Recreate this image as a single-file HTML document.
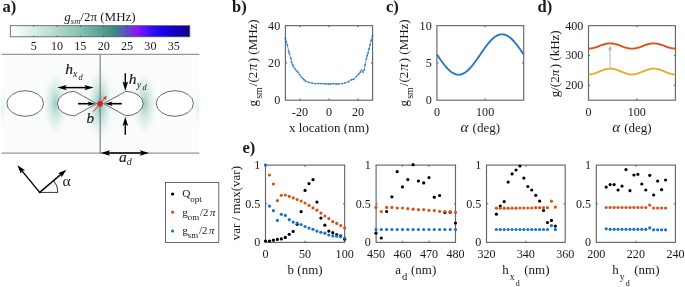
<!DOCTYPE html>
<html><head><meta charset="utf-8"><style>
html,body{margin:0;padding:0;background:#fff;}
body{width:685px;height:287px;overflow:hidden;}
svg{display:block;will-change:transform;}
text{font-family:"Liberation Serif", serif; fill:#1a1a1a;}
</style></head><body>
<svg width="685" height="287" viewBox="0 0 685 287">
<rect width="685" height="287" fill="#fff"/>
<text x="2.5" y="12" font-size="16.5" font-weight="bold">a)</text>
<text x="100" y="21" font-size="13" text-anchor="middle"><tspan font-style="italic">g</tspan><tspan font-style="italic" font-size="8.5" dy="2.5">sm</tspan><tspan dy="-2.5">/2π (MHz)</tspan></text>
<defs><linearGradient id="cbg" x1="0" x2="1" y1="0" y2="0"><stop offset="0.0000" stop-color="#ffffff"/><stop offset="0.1299" stop-color="#dcece8"/><stop offset="0.2597" stop-color="#b3d7cf"/><stop offset="0.3896" stop-color="#88c0b3"/><stop offset="0.5195" stop-color="#509d8c"/><stop offset="0.5792" stop-color="#3f8c7e"/><stop offset="0.6364" stop-color="#5058c0"/><stop offset="0.7117" stop-color="#8a14f6"/><stop offset="0.7922" stop-color="#2a10f8"/><stop offset="0.8571" stop-color="#1c00e6"/><stop offset="0.9351" stop-color="#1200b4"/><stop offset="1.0000" stop-color="#0e0090"/></linearGradient>
<radialGradient id="g1"><stop offset="0" stop-color="#5aa99c" stop-opacity="0.9"/><stop offset="0.3" stop-color="#86c2b7" stop-opacity="0.5"/><stop offset="1" stop-color="#c8e2dd" stop-opacity="0"/></radialGradient>
<radialGradient id="g2"><stop offset="0" stop-color="#7dbdb1" stop-opacity="0.7"/><stop offset="0.35" stop-color="#9ccbc2" stop-opacity="0.42"/><stop offset="1" stop-color="#c8e2dd" stop-opacity="0"/></radialGradient>
<radialGradient id="g3"><stop offset="0" stop-color="#c5e1dc" stop-opacity="0.55"/><stop offset="1" stop-color="#e6f1ef" stop-opacity="0"/></radialGradient>
<linearGradient id="gv" x1="0" x2="0" y1="0" y2="1"><stop offset="0" stop-color="#d8ebe7" stop-opacity="0.0"/><stop offset="0.5" stop-color="#a9d1c9" stop-opacity="0.6"/><stop offset="1" stop-color="#d8ebe7" stop-opacity="0.0"/></linearGradient>
</defs>
<rect x="10.3" y="25.7" width="179.50" height="11.10" fill="url(#cbg)" stroke="#555" stroke-width="0.8"/>
<line x1="33.65" y1="25.70" x2="33.65" y2="27.00" stroke="#333" stroke-width="0.7" />
<line x1="33.65" y1="36.80" x2="33.65" y2="35.50" stroke="#333" stroke-width="0.7" />
<text x="33.65" y="49.60" font-size="12.1" text-anchor="middle" >5</text>
<line x1="57.00" y1="25.70" x2="57.00" y2="27.00" stroke="#333" stroke-width="0.7" />
<line x1="57.00" y1="36.80" x2="57.00" y2="35.50" stroke="#333" stroke-width="0.7" />
<text x="57.00" y="49.60" font-size="12.1" text-anchor="middle" >10</text>
<line x1="80.35" y1="25.70" x2="80.35" y2="27.00" stroke="#333" stroke-width="0.7" />
<line x1="80.35" y1="36.80" x2="80.35" y2="35.50" stroke="#333" stroke-width="0.7" />
<text x="80.35" y="49.60" font-size="12.1" text-anchor="middle" >15</text>
<line x1="103.70" y1="25.70" x2="103.70" y2="27.00" stroke="#333" stroke-width="0.7" />
<line x1="103.70" y1="36.80" x2="103.70" y2="35.50" stroke="#333" stroke-width="0.7" />
<text x="103.70" y="49.60" font-size="12.1" text-anchor="middle" >20</text>
<line x1="127.05" y1="25.70" x2="127.05" y2="27.00" stroke="#333" stroke-width="0.7" />
<line x1="127.05" y1="36.80" x2="127.05" y2="35.50" stroke="#333" stroke-width="0.7" />
<text x="127.05" y="49.60" font-size="12.1" text-anchor="middle" >25</text>
<line x1="150.40" y1="25.70" x2="150.40" y2="27.00" stroke="#333" stroke-width="0.7" />
<line x1="150.40" y1="36.80" x2="150.40" y2="35.50" stroke="#333" stroke-width="0.7" />
<text x="150.40" y="49.60" font-size="12.1" text-anchor="middle" >30</text>
<line x1="173.75" y1="25.70" x2="173.75" y2="27.00" stroke="#333" stroke-width="0.7" />
<line x1="173.75" y1="36.80" x2="173.75" y2="35.50" stroke="#333" stroke-width="0.7" />
<text x="173.75" y="49.60" font-size="12.1" text-anchor="middle" >35</text>
<rect x="1.5" y="54.3" width="197.8" height="98.8" fill="#fbfdfc"/>
<ellipse cx="100" cy="103.7" rx="45" ry="40" fill="url(#g3)" opacity="0.45"/>
<ellipse cx="100" cy="103.7" rx="11" ry="46" fill="url(#g3)"/>
<ellipse cx="56" cy="103.6" rx="14" ry="36" fill="url(#g3)"/>
<ellipse cx="144" cy="103.6" rx="14" ry="36" fill="url(#g3)"/>
<ellipse cx="55.5" cy="103.6" rx="12" ry="31" fill="url(#g2)"/>
<ellipse cx="144.5" cy="103.6" rx="12" ry="31" fill="url(#g2)"/>
<ellipse cx="100" cy="116" rx="16" ry="24" fill="url(#g3)" opacity="0.8"/>
<ellipse cx="100" cy="91" rx="14" ry="22" fill="url(#g3)" opacity="0.6"/>
<ellipse cx="100" cy="103.7" rx="12" ry="30" fill="url(#g1)"/>
<ellipse cx="2.5" cy="108" rx="4" ry="22" fill="url(#g3)" opacity="0.7"/>
<ellipse cx="197.5" cy="108" rx="4" ry="22" fill="url(#g3)" opacity="0.7"/>
<line x1="1.50" y1="54.30" x2="199.30" y2="54.30" stroke="#6e6e6e" stroke-width="0.9" />
<line x1="1.50" y1="153.10" x2="199.30" y2="153.10" stroke="#6e6e6e" stroke-width="0.9" />
<line x1="100.15" y1="54.30" x2="100.15" y2="153.10" stroke="#6a6a6a" stroke-width="1.0" />
<ellipse cx="25.2" cy="103.5" rx="18.3" ry="12.8" fill="#ffffff" stroke="#444" stroke-width="0.8"/>
<ellipse cx="174.8" cy="103.5" rx="18.6" ry="12.8" fill="#ffffff" stroke="#444" stroke-width="0.8"/>
<path d="M96.60 103.60 L74.60 91.40 A17.1 12.2 0 0 0 74.60 115.80 Z" fill="#ffffff" stroke="#444" stroke-width="0.8"/>
<path d="M103.60 103.60 L125.80 91.40 A17.3 12.2 0 0 1 125.80 115.80 Z" fill="#ffffff" stroke="#444" stroke-width="0.8"/>
<line x1="63.00" y1="87.60" x2="88.10" y2="87.60" stroke="#000" stroke-width="1.5" />
<path d="M93.80 87.60 L84.30 90.30 L86.20 87.60 L84.30 84.90 Z" fill="#000"/>
<path d="M57.30 87.60 L66.80 84.90 L64.90 87.60 L66.80 90.30 Z" fill="#000"/>
<line x1="78.00" y1="103.70" x2="90.80" y2="103.70" stroke="#000" stroke-width="1.6" />
<path d="M95.30 103.70 L87.80 106.00 L89.30 103.70 L87.80 101.40 Z" fill="#000"/>
<line x1="121.80" y1="103.70" x2="109.50" y2="103.70" stroke="#000" stroke-width="1.6" />
<path d="M105.00 103.70 L112.50 101.40 L111.00 103.70 L112.50 106.00 Z" fill="#000"/>
<line x1="125.30" y1="73.30" x2="125.30" y2="85.20" stroke="#000" stroke-width="1.4" />
<path d="M125.30 90.90 L122.50 81.40 L125.30 83.30 L128.10 81.40 Z" fill="#000"/>
<line x1="125.30" y1="134.80" x2="125.30" y2="122.32" stroke="#000" stroke-width="1.4" />
<path d="M125.30 116.80 L128.10 126.00 L125.30 124.16 L122.50 126.00 Z" fill="#000"/>
<line x1="106.30" y1="153.00" x2="143.50" y2="153.00" stroke="#000" stroke-width="1.5" />
<path d="M149.20 153.00 L139.70 155.80 L141.60 153.00 L139.70 150.20 Z" fill="#000"/>
<path d="M100.60 153.00 L110.10 150.20 L108.20 153.00 L110.10 155.80 Z" fill="#000"/>
<line x1="93.3" y1="111.7" x2="105.2" y2="97.6" stroke="#e22a25" stroke-width="0.95"/>
<path d="M106.90 95.80 L105.34 100.39 L104.56 98.54 L102.61 98.05 Z" fill="#e8211d"/>
<circle cx="100.05" cy="103.8" r="2.8" fill="#d91f1f"/>
<text x="65.3" y="73.5" font-size="15.5" font-style="italic" stroke="#1a1a1a" stroke-width="0.2">h</text>
<text x="73.0" y="77.1" font-size="10" font-style="italic">x</text>
<text x="78.5" y="79.9" font-size="8.3" font-style="italic">d</text>
<text x="128.8" y="84.3" font-size="15.5" font-style="italic" stroke="#1a1a1a" stroke-width="0.2">h</text>
<text x="136.7" y="87.6" font-size="10" font-style="italic">y</text>
<text x="142.4" y="90.2" font-size="8.3" font-style="italic">d</text>
<text x="86.4" y="123.2" font-size="15" font-style="italic" stroke="#1a1a1a" stroke-width="0.2">b</text>
<text x="118.9" y="162.1" font-size="15.5" font-style="italic" stroke="#1a1a1a" stroke-width="0.12">a</text>
<text x="126.8" y="164.5" font-size="10" font-style="italic">d</text>
<line x1="39.70" y1="192.40" x2="57.90" y2="192.40" stroke="#000" stroke-width="0.8" />
<path d="M57.9 192.4 A18.2 18.2 0 0 0 53.6 180.6" fill="none" stroke="#000" stroke-width="0.8"/>
<line x1="39.70" y1="192.40" x2="20.75" y2="169.38" stroke="#000" stroke-width="1.4" />
<path d="M17.40 165.30 L25.15 170.32 L21.87 170.74 L20.83 173.87 Z" fill="#000"/>
<line x1="39.70" y1="192.40" x2="62.38" y2="173.12" stroke="#000" stroke-width="1.4" />
<path d="M66.40 169.70 L61.51 177.53 L61.04 174.26 L57.88 173.27 Z" fill="#000"/>
<circle cx="39.7" cy="192.4" r="0.9" fill="#000"/>
<text x="62.6" y="186.2" font-size="15.5">α</text>
<rect x="165.4" y="182.5" width="53.4" height="60" fill="#fff" stroke="#444" stroke-width="0.8"/>
<circle cx="172.60" cy="194.00" r="1.6" fill="#000"/>
<circle cx="172.60" cy="212.20" r="1.6" fill="#D95319"/>
<circle cx="172.60" cy="231.00" r="1.6" fill="#1a74c2"/>
<text x="182.2" y="197.4" font-size="11.3">Q<tspan font-size="9" dy="4.2">opt</tspan></text>
<text x="182.2" y="215.6" font-size="11.3">g<tspan font-size="9" dy="4.4">om</tspan><tspan font-size="10.8" dx="0.6" dy="-4.4">/2</tspan><tspan font-style="italic" font-size="10.8" dx="1.6">π</tspan></text>
<text x="182.2" y="233.8" font-size="11.3">g<tspan font-size="9" dy="4.4">sm</tspan><tspan font-size="10.8" dx="0.6" dy="-4.4">/2</tspan><tspan font-style="italic" font-size="10.8" dx="1.6">π</tspan></text>
<text x="232" y="12" font-size="16.5" font-weight="bold">b)</text>
<rect x="285.4" y="25.65" width="87.20" height="74.55" fill="none" stroke="#666666" stroke-width="1.15"/>
<line x1="299.93" y1="100.20" x2="299.93" y2="98.60" stroke="#666666" stroke-width="1.15" />
<line x1="299.93" y1="25.65" x2="299.93" y2="27.25" stroke="#666666" stroke-width="1.15" />
<line x1="329.00" y1="100.20" x2="329.00" y2="98.60" stroke="#666666" stroke-width="1.15" />
<line x1="329.00" y1="25.65" x2="329.00" y2="27.25" stroke="#666666" stroke-width="1.15" />
<line x1="358.07" y1="100.20" x2="358.07" y2="98.60" stroke="#666666" stroke-width="1.15" />
<line x1="358.07" y1="25.65" x2="358.07" y2="27.25" stroke="#666666" stroke-width="1.15" />
<line x1="285.40" y1="62.92" x2="287.00" y2="62.92" stroke="#666666" stroke-width="1.15" />
<line x1="372.60" y1="62.92" x2="371.00" y2="62.92" stroke="#666666" stroke-width="1.15" />
<text x="299.93" y="115.90" font-size="12.1" text-anchor="middle" >-20</text>
<text x="329.00" y="115.90" font-size="12.1" text-anchor="middle" >0</text>
<text x="358.07" y="115.90" font-size="12.1" text-anchor="middle" >20</text>
<text x="280.20" y="104.20" font-size="12.1" text-anchor="end" >0</text>
<text x="280.20" y="66.92" font-size="12.1" text-anchor="end" >20</text>
<text x="280.20" y="29.65" font-size="12.1" text-anchor="end" >40</text>
<text x="329.00" y="131.80" font-size="13" text-anchor="middle" >x location (nm)</text>
<text transform="translate(256.9,62.9) rotate(-90)" font-size="13" text-anchor="middle">g<tspan font-size="10" dx="1.2" dy="4.8">sm</tspan><tspan dx="0.9" dy="-4.8">/(2</tspan><tspan font-style="italic" font-size="14" dx="1.1">π</tspan><tspan dx="1.4">) (MHz)</tspan></text>
<polyline points="285.40,38.50 286.30,41.80 287.30,45.00 288.70,51.40 289.40,53.60 290.90,58.60 291.60,62.20 292.60,64.60 293.30,66.40 294.80,68.60 296.40,70.70 297.90,72.10 299.60,74.60 301.40,77.10 302.90,78.60 304.30,80.00 305.70,81.40 308.80,82.40 312.10,83.10 315.00,83.60 318.60,83.60 321.10,83.60 323.60,83.60 326.10,83.90 328.60,84.00 331.10,83.90 333.60,83.60 336.10,84.00 338.60,84.00 342.10,83.60 345.00,82.90 348.60,81.70 351.40,79.70 353.60,79.30 356.40,76.40 358.60,74.30 360.20,72.30 361.40,70.30 362.90,72.10 364.30,70.00 365.00,65.00 366.40,58.60 367.10,55.70 368.10,52.90 369.10,49.00 370.00,45.00 371.20,40.50 372.40,36.00" fill="none" stroke="#2f7dc8" stroke-width="0.75"/>
<circle cx="285.40" cy="38.50" r="0.95" fill="#2f7dc8"/>
<circle cx="286.30" cy="41.80" r="0.95" fill="#2f7dc8"/>
<circle cx="287.30" cy="45.00" r="0.95" fill="#2f7dc8"/>
<circle cx="288.70" cy="51.40" r="0.95" fill="#2f7dc8"/>
<circle cx="289.40" cy="53.60" r="0.95" fill="#2f7dc8"/>
<circle cx="290.90" cy="58.60" r="0.95" fill="#2f7dc8"/>
<circle cx="291.60" cy="62.20" r="0.95" fill="#2f7dc8"/>
<circle cx="292.60" cy="64.60" r="0.95" fill="#2f7dc8"/>
<circle cx="293.30" cy="66.40" r="0.95" fill="#2f7dc8"/>
<circle cx="294.80" cy="68.60" r="0.95" fill="#2f7dc8"/>
<circle cx="296.40" cy="70.70" r="0.95" fill="#2f7dc8"/>
<circle cx="297.90" cy="72.10" r="0.95" fill="#2f7dc8"/>
<circle cx="299.60" cy="74.60" r="0.95" fill="#2f7dc8"/>
<circle cx="301.40" cy="77.10" r="0.95" fill="#2f7dc8"/>
<circle cx="302.90" cy="78.60" r="0.95" fill="#2f7dc8"/>
<circle cx="304.30" cy="80.00" r="0.95" fill="#2f7dc8"/>
<circle cx="305.70" cy="81.40" r="0.95" fill="#2f7dc8"/>
<circle cx="308.80" cy="82.40" r="0.95" fill="#2f7dc8"/>
<circle cx="312.10" cy="83.10" r="0.95" fill="#2f7dc8"/>
<circle cx="315.00" cy="83.60" r="0.95" fill="#2f7dc8"/>
<circle cx="318.60" cy="83.60" r="0.95" fill="#2f7dc8"/>
<circle cx="321.10" cy="83.60" r="0.95" fill="#2f7dc8"/>
<circle cx="323.60" cy="83.60" r="0.95" fill="#2f7dc8"/>
<circle cx="326.10" cy="83.90" r="0.95" fill="#2f7dc8"/>
<circle cx="328.60" cy="84.00" r="0.95" fill="#2f7dc8"/>
<circle cx="331.10" cy="83.90" r="0.95" fill="#2f7dc8"/>
<circle cx="333.60" cy="83.60" r="0.95" fill="#2f7dc8"/>
<circle cx="336.10" cy="84.00" r="0.95" fill="#2f7dc8"/>
<circle cx="338.60" cy="84.00" r="0.95" fill="#2f7dc8"/>
<circle cx="342.10" cy="83.60" r="0.95" fill="#2f7dc8"/>
<circle cx="345.00" cy="82.90" r="0.95" fill="#2f7dc8"/>
<circle cx="348.60" cy="81.70" r="0.95" fill="#2f7dc8"/>
<circle cx="351.40" cy="79.70" r="0.95" fill="#2f7dc8"/>
<circle cx="353.60" cy="79.30" r="0.95" fill="#2f7dc8"/>
<circle cx="356.40" cy="76.40" r="0.95" fill="#2f7dc8"/>
<circle cx="358.60" cy="74.30" r="0.95" fill="#2f7dc8"/>
<circle cx="360.20" cy="72.30" r="0.95" fill="#2f7dc8"/>
<circle cx="361.40" cy="70.30" r="0.95" fill="#2f7dc8"/>
<circle cx="362.90" cy="72.10" r="0.95" fill="#2f7dc8"/>
<circle cx="364.30" cy="70.00" r="0.95" fill="#2f7dc8"/>
<circle cx="365.00" cy="65.00" r="0.95" fill="#2f7dc8"/>
<circle cx="366.40" cy="58.60" r="0.95" fill="#2f7dc8"/>
<circle cx="367.10" cy="55.70" r="0.95" fill="#2f7dc8"/>
<circle cx="368.10" cy="52.90" r="0.95" fill="#2f7dc8"/>
<circle cx="369.10" cy="49.00" r="0.95" fill="#2f7dc8"/>
<circle cx="370.00" cy="45.00" r="0.95" fill="#2f7dc8"/>
<circle cx="371.20" cy="40.50" r="0.95" fill="#2f7dc8"/>
<circle cx="372.40" cy="36.00" r="0.95" fill="#2f7dc8"/>
<text x="386" y="12" font-size="16.5" font-weight="bold">c)</text>
<rect x="436.9" y="25.65" width="86.80" height="74.55" fill="none" stroke="#666666" stroke-width="1.15"/>
<line x1="485.12" y1="100.20" x2="485.12" y2="98.60" stroke="#666666" stroke-width="1.15" />
<line x1="485.12" y1="25.65" x2="485.12" y2="27.25" stroke="#666666" stroke-width="1.15" />
<line x1="436.90" y1="62.92" x2="438.50" y2="62.92" stroke="#666666" stroke-width="1.15" />
<line x1="523.70" y1="62.92" x2="522.10" y2="62.92" stroke="#666666" stroke-width="1.15" />
<text x="436.90" y="115.90" font-size="12.1" text-anchor="middle" >0</text>
<text x="485.12" y="115.90" font-size="12.1" text-anchor="middle" >100</text>
<text x="431.70" y="104.20" font-size="12.1" text-anchor="end" >0</text>
<text x="431.70" y="66.92" font-size="12.1" text-anchor="end" >5</text>
<text x="431.70" y="29.65" font-size="12.1" text-anchor="end" >10</text>
<text x="480.30" y="132.3" font-size="13" text-anchor="middle"><tspan font-style="italic" font-size="15">α</tspan><tspan dx="0.9"> (deg)</tspan></text>
<text transform="translate(407.8,62.9) rotate(-90)" font-size="13" text-anchor="middle">g<tspan font-size="10" dx="1.2" dy="4.8">sm</tspan><tspan dx="0.9" dy="-4.8">/(2</tspan><tspan font-style="italic" font-size="14" dx="1.1">π</tspan><tspan dx="1.4">) (MHz)</tspan></text>
<polyline points="436.90,54.50 437.62,55.56 438.35,56.61 439.07,57.66 439.79,58.70 440.52,59.73 441.24,60.74 441.96,61.74 442.69,62.72 443.41,63.67 444.13,64.60 444.86,65.50 445.58,66.37 446.30,67.21 447.03,68.02 447.75,68.78 448.47,69.51 449.20,70.20 449.92,70.84 450.64,71.44 451.37,71.99 452.09,72.50 452.81,72.95 453.54,73.36 454.26,73.71 454.98,74.01 455.71,74.26 456.43,74.45 457.15,74.59 457.88,74.67 458.60,74.70 459.32,74.67 460.05,74.59 460.77,74.45 461.49,74.26 462.22,74.01 462.94,73.71 463.66,73.36 464.39,72.95 465.11,72.50 465.83,71.99 466.56,71.44 467.28,70.84 468.00,70.20 468.73,69.51 469.45,68.78 470.17,68.02 470.90,67.21 471.62,66.37 472.34,65.50 473.07,64.60 473.79,63.67 474.51,62.72 475.24,61.74 475.96,60.74 476.68,59.73 477.41,58.70 478.13,57.66 478.85,56.61 479.58,55.56 480.30,54.50 481.02,53.44 481.75,52.39 482.47,51.34 483.19,50.30 483.92,49.27 484.64,48.26 485.36,47.26 486.09,46.28 486.81,45.33 487.53,44.40 488.26,43.50 488.98,42.63 489.70,41.79 490.43,40.98 491.15,40.22 491.87,39.49 492.60,38.80 493.32,38.16 494.04,37.56 494.77,37.01 495.49,36.50 496.21,36.05 496.94,35.64 497.66,35.29 498.38,34.99 499.11,34.74 499.83,34.55 500.55,34.41 501.28,34.33 502.00,34.30 502.72,34.33 503.45,34.41 504.17,34.55 504.89,34.74 505.62,34.99 506.34,35.29 507.06,35.64 507.79,36.05 508.51,36.50 509.23,37.01 509.96,37.56 510.68,38.16 511.40,38.80 512.13,39.49 512.85,40.22 513.57,40.98 514.30,41.79 515.02,42.63 515.74,43.50 516.47,44.40 517.19,45.33 517.91,46.28 518.64,47.26 519.36,48.26 520.08,49.27 520.81,50.30 521.53,51.34 522.25,52.39 522.98,53.44 523.70,54.50" fill="none" stroke="#2a78c4" stroke-width="1.9" stroke-linejoin="round"/>
<text x="537.5" y="12" font-size="16.5" font-weight="bold">d)</text>
<rect x="588.5" y="25.65" width="86.95" height="74.55" fill="none" stroke="#666666" stroke-width="1.15"/>
<line x1="636.81" y1="100.20" x2="636.81" y2="98.60" stroke="#666666" stroke-width="1.15" />
<line x1="636.81" y1="25.65" x2="636.81" y2="27.25" stroke="#666666" stroke-width="1.15" />
<line x1="588.50" y1="85.29" x2="590.10" y2="85.29" stroke="#666666" stroke-width="1.15" />
<line x1="675.45" y1="85.29" x2="673.85" y2="85.29" stroke="#666666" stroke-width="1.15" />
<line x1="588.50" y1="55.47" x2="590.10" y2="55.47" stroke="#666666" stroke-width="1.15" />
<line x1="675.45" y1="55.47" x2="673.85" y2="55.47" stroke="#666666" stroke-width="1.15" />
<text x="588.50" y="115.90" font-size="12.1" text-anchor="middle" >0</text>
<text x="636.81" y="115.90" font-size="12.1" text-anchor="middle" >100</text>
<text x="583.30" y="89.29" font-size="12.1" text-anchor="end" >200</text>
<text x="583.30" y="59.47" font-size="12.1" text-anchor="end" >300</text>
<text x="583.30" y="29.65" font-size="12.1" text-anchor="end" >400</text>
<text x="631.98" y="132.3" font-size="13" text-anchor="middle"><tspan font-style="italic" font-size="15">α</tspan><tspan dx="0.9"> (deg)</tspan></text>
<text transform="translate(558.9,63.8) rotate(-90)" font-size="13" text-anchor="middle">g/(2<tspan font-style="italic">π</tspan><tspan dx="1.6">) (kHz)</tspan></text>
<line x1="610.00" y1="68.60" x2="610.00" y2="50.00" stroke="#a8a8a8" stroke-width="0.9" />
<path d="M610.00 45.60 L611.90 50.40 L610.00 49.44 L608.10 50.40 Z" fill="#a8a8a8"/>
<polyline points="588.50,48.60 589.22,48.59 589.95,48.54 590.67,48.47 591.40,48.38 592.12,48.25 592.85,48.10 593.57,47.93 594.30,47.74 595.02,47.53 595.75,47.30 596.47,47.06 597.20,46.80 597.92,46.54 598.64,46.27 599.37,46.00 600.09,45.73 600.82,45.46 601.54,45.20 602.27,44.94 602.99,44.70 603.72,44.47 604.44,44.26 605.17,44.07 605.89,43.90 606.61,43.75 607.34,43.62 608.06,43.53 608.79,43.46 609.51,43.41 610.24,43.40 610.96,43.41 611.69,43.46 612.41,43.53 613.14,43.62 613.86,43.75 614.59,43.90 615.31,44.07 616.03,44.26 616.76,44.47 617.48,44.70 618.21,44.94 618.93,45.20 619.66,45.46 620.38,45.73 621.11,46.00 621.83,46.27 622.56,46.54 623.28,46.80 624.00,47.06 624.73,47.30 625.45,47.53 626.18,47.74 626.90,47.93 627.63,48.10 628.35,48.25 629.08,48.38 629.80,48.47 630.53,48.54 631.25,48.59 631.98,48.60 632.70,48.59 633.42,48.54 634.15,48.47 634.87,48.38 635.60,48.25 636.32,48.10 637.05,47.93 637.77,47.74 638.50,47.53 639.22,47.30 639.95,47.06 640.67,46.80 641.39,46.54 642.12,46.27 642.84,46.00 643.57,45.73 644.29,45.46 645.02,45.20 645.74,44.94 646.47,44.70 647.19,44.47 647.92,44.26 648.64,44.07 649.37,43.90 650.09,43.75 650.81,43.62 651.54,43.53 652.26,43.46 652.99,43.41 653.71,43.40 654.44,43.41 655.16,43.46 655.89,43.53 656.61,43.62 657.34,43.75 658.06,43.90 658.78,44.07 659.51,44.26 660.23,44.47 660.96,44.70 661.68,44.94 662.41,45.20 663.13,45.46 663.86,45.73 664.58,46.00 665.31,46.27 666.03,46.54 666.75,46.80 667.48,47.06 668.20,47.30 668.93,47.53 669.65,47.74 670.38,47.93 671.10,48.10 671.83,48.25 672.55,48.38 673.28,48.47 674.00,48.54 674.73,48.59 675.45,48.60" fill="none" stroke="#D95319" stroke-width="1.9" stroke-linejoin="round"/>
<polyline points="588.50,74.45 589.22,74.43 589.95,74.39 590.67,74.31 591.40,74.20 592.12,74.06 592.85,73.90 593.57,73.71 594.30,73.49 595.02,73.25 595.75,73.00 596.47,72.73 597.20,72.45 597.92,72.15 598.64,71.85 599.37,71.55 600.09,71.25 600.82,70.95 601.54,70.65 602.27,70.37 602.99,70.10 603.72,69.85 604.44,69.61 605.17,69.39 605.89,69.20 606.61,69.04 607.34,68.90 608.06,68.79 608.79,68.71 609.51,68.67 610.24,68.65 610.96,68.67 611.69,68.71 612.41,68.79 613.14,68.90 613.86,69.04 614.59,69.20 615.31,69.39 616.03,69.61 616.76,69.85 617.48,70.10 618.21,70.37 618.93,70.65 619.66,70.95 620.38,71.25 621.11,71.55 621.83,71.85 622.56,72.15 623.28,72.45 624.00,72.73 624.73,73.00 625.45,73.25 626.18,73.49 626.90,73.71 627.63,73.90 628.35,74.06 629.08,74.20 629.80,74.31 630.53,74.39 631.25,74.43 631.98,74.45 632.70,74.43 633.42,74.39 634.15,74.31 634.87,74.20 635.60,74.06 636.32,73.90 637.05,73.71 637.77,73.49 638.50,73.25 639.22,73.00 639.95,72.73 640.67,72.45 641.39,72.15 642.12,71.85 642.84,71.55 643.57,71.25 644.29,70.95 645.02,70.65 645.74,70.37 646.47,70.10 647.19,69.85 647.92,69.61 648.64,69.39 649.37,69.20 650.09,69.04 650.81,68.90 651.54,68.79 652.26,68.71 652.99,68.67 653.71,68.65 654.44,68.67 655.16,68.71 655.89,68.79 656.61,68.90 657.34,69.04 658.06,69.20 658.78,69.39 659.51,69.61 660.23,69.85 660.96,70.10 661.68,70.37 662.41,70.65 663.13,70.95 663.86,71.25 664.58,71.55 665.31,71.85 666.03,72.15 666.75,72.45 667.48,72.73 668.20,73.00 668.93,73.25 669.65,73.49 670.38,73.71 671.10,73.90 671.83,74.06 672.55,74.20 673.28,74.31 674.00,74.39 674.73,74.43 675.45,74.45" fill="none" stroke="#DFB032" stroke-width="1.9" stroke-linejoin="round"/>
<text x="242.5" y="152.9" font-size="16.5" font-weight="bold">e)</text>
<text transform="translate(239.6,203.2) rotate(-90)" font-size="13" text-anchor="middle">var / max(var)</text>
<rect x="265.5" y="165.1" width="79.15" height="77.30" fill="none" stroke="#666666" stroke-width="1.15"/>
<line x1="305.07" y1="242.40" x2="305.07" y2="240.80" stroke="#666666" stroke-width="1.15" />
<line x1="305.07" y1="165.10" x2="305.07" y2="166.70" stroke="#666666" stroke-width="1.15" />
<line x1="265.50" y1="203.75" x2="267.10" y2="203.75" stroke="#666666" stroke-width="1.15" />
<line x1="344.65" y1="203.75" x2="343.05" y2="203.75" stroke="#666666" stroke-width="1.15" />
<text x="265.50" y="258.20" font-size="12.1" text-anchor="middle" >0</text>
<text x="305.07" y="258.20" font-size="12.1" text-anchor="middle" >50</text>
<text x="344.65" y="258.20" font-size="12.1" text-anchor="middle" >100</text>
<text x="260.30" y="246.40" font-size="12.1" text-anchor="end" >0</text>
<text x="260.30" y="207.75" font-size="12.1" text-anchor="end" >0.5</text>
<text x="260.30" y="169.10" font-size="12.1" text-anchor="end" >1</text>
<text x="305.07" y="274.2" font-size="13" text-anchor="middle">b (nm)</text>
<rect x="376.1" y="165.1" width="79.40" height="77.30" fill="none" stroke="#666666" stroke-width="1.15"/>
<line x1="402.57" y1="242.40" x2="402.57" y2="240.80" stroke="#666666" stroke-width="1.15" />
<line x1="402.57" y1="165.10" x2="402.57" y2="166.70" stroke="#666666" stroke-width="1.15" />
<line x1="429.03" y1="242.40" x2="429.03" y2="240.80" stroke="#666666" stroke-width="1.15" />
<line x1="429.03" y1="165.10" x2="429.03" y2="166.70" stroke="#666666" stroke-width="1.15" />
<line x1="376.10" y1="203.75" x2="377.70" y2="203.75" stroke="#666666" stroke-width="1.15" />
<line x1="455.50" y1="203.75" x2="453.90" y2="203.75" stroke="#666666" stroke-width="1.15" />
<text x="376.10" y="258.20" font-size="12.1" text-anchor="middle" >450</text>
<text x="402.57" y="258.20" font-size="12.1" text-anchor="middle" >460</text>
<text x="429.03" y="258.20" font-size="12.1" text-anchor="middle" >470</text>
<text x="455.50" y="258.20" font-size="12.1" text-anchor="middle" >480</text>
<text x="370.90" y="246.40" font-size="12.1" text-anchor="end" >0</text>
<text x="370.90" y="207.75" font-size="12.1" text-anchor="end" >0.5</text>
<text x="370.90" y="169.10" font-size="12.1" text-anchor="end" >1</text>
<text x="415.80" y="274.2" font-size="13" text-anchor="middle">a<tspan font-size="10.5" dx="0.8" dy="5.6">d</tspan><tspan dy="-5.6" dx="0.6"> (nm)</tspan></text>
<rect x="486.5" y="165.1" width="78.70" height="77.30" fill="none" stroke="#666666" stroke-width="1.15"/>
<line x1="525.85" y1="242.40" x2="525.85" y2="240.80" stroke="#666666" stroke-width="1.15" />
<line x1="525.85" y1="165.10" x2="525.85" y2="166.70" stroke="#666666" stroke-width="1.15" />
<line x1="486.50" y1="203.75" x2="488.10" y2="203.75" stroke="#666666" stroke-width="1.15" />
<line x1="565.20" y1="203.75" x2="563.60" y2="203.75" stroke="#666666" stroke-width="1.15" />
<text x="486.50" y="258.20" font-size="12.1" text-anchor="middle" >320</text>
<text x="525.85" y="258.20" font-size="12.1" text-anchor="middle" >340</text>
<text x="565.20" y="258.20" font-size="12.1" text-anchor="middle" >360</text>
<text x="481.30" y="246.40" font-size="12.1" text-anchor="end" >0</text>
<text x="481.30" y="207.75" font-size="12.1" text-anchor="end" >0.5</text>
<text x="481.30" y="169.10" font-size="12.1" text-anchor="end" >1</text>
<text x="525.85" y="274.2" font-size="13" text-anchor="middle">h<tspan font-size="9.8" dx="1" dy="6">x</tspan><tspan font-size="8.5" dx="0.8" dy="5.5">d</tspan><tspan dx="1.3" dy="-11.5"> (nm)</tspan></text>
<rect x="596.3" y="165.1" width="79.15" height="77.30" fill="none" stroke="#666666" stroke-width="1.15"/>
<line x1="635.88" y1="242.40" x2="635.88" y2="240.80" stroke="#666666" stroke-width="1.15" />
<line x1="635.88" y1="165.10" x2="635.88" y2="166.70" stroke="#666666" stroke-width="1.15" />
<line x1="596.30" y1="203.75" x2="597.90" y2="203.75" stroke="#666666" stroke-width="1.15" />
<line x1="675.45" y1="203.75" x2="673.85" y2="203.75" stroke="#666666" stroke-width="1.15" />
<text x="596.30" y="258.20" font-size="12.1" text-anchor="middle" >200</text>
<text x="635.88" y="258.20" font-size="12.1" text-anchor="middle" >220</text>
<text x="675.45" y="258.20" font-size="12.1" text-anchor="middle" >240</text>
<text x="591.10" y="246.40" font-size="12.1" text-anchor="end" >0</text>
<text x="591.10" y="207.75" font-size="12.1" text-anchor="end" >0.5</text>
<text x="591.10" y="169.10" font-size="12.1" text-anchor="end" >1</text>
<text x="635.88" y="274.2" font-size="13" text-anchor="middle">h<tspan font-size="9.8" dx="1" dy="6">y</tspan><tspan font-size="8.5" dx="0.8" dy="5.5">d</tspan><tspan dx="1.3" dy="-11.5"> (nm)</tspan></text>
<circle cx="265.50" cy="241.10" r="1.6" fill="#000"/>
<circle cx="269.46" cy="241.10" r="1.6" fill="#000"/>
<circle cx="273.42" cy="240.20" r="1.6" fill="#000"/>
<circle cx="277.37" cy="239.40" r="1.6" fill="#000"/>
<circle cx="281.33" cy="238.90" r="1.6" fill="#000"/>
<circle cx="285.29" cy="237.40" r="1.6" fill="#000"/>
<circle cx="289.25" cy="234.30" r="1.6" fill="#000"/>
<circle cx="293.20" cy="231.40" r="1.6" fill="#000"/>
<circle cx="297.16" cy="224.30" r="1.6" fill="#000"/>
<circle cx="301.12" cy="211.70" r="1.6" fill="#000"/>
<circle cx="305.07" cy="190.40" r="1.6" fill="#000"/>
<circle cx="309.03" cy="183.60" r="1.6" fill="#000"/>
<circle cx="312.99" cy="179.70" r="1.6" fill="#000"/>
<circle cx="316.95" cy="202.10" r="1.6" fill="#000"/>
<circle cx="320.90" cy="218.10" r="1.6" fill="#000"/>
<circle cx="324.86" cy="225.20" r="1.6" fill="#000"/>
<circle cx="328.82" cy="231.10" r="1.6" fill="#000"/>
<circle cx="332.78" cy="232.70" r="1.6" fill="#000"/>
<circle cx="336.74" cy="234.50" r="1.6" fill="#000"/>
<circle cx="340.69" cy="235.80" r="1.6" fill="#000"/>
<circle cx="344.65" cy="239.20" r="1.6" fill="#000"/>
<circle cx="265.50" cy="165.00" r="1.6" fill="#D95319"/>
<circle cx="269.46" cy="175.00" r="1.6" fill="#D95319"/>
<circle cx="273.42" cy="184.00" r="1.6" fill="#D95319"/>
<circle cx="277.37" cy="200.70" r="1.6" fill="#D95319"/>
<circle cx="281.33" cy="195.30" r="1.6" fill="#D95319"/>
<circle cx="285.29" cy="195.00" r="1.6" fill="#D95319"/>
<circle cx="289.25" cy="196.40" r="1.6" fill="#D95319"/>
<circle cx="293.20" cy="197.90" r="1.6" fill="#D95319"/>
<circle cx="297.16" cy="199.60" r="1.6" fill="#D95319"/>
<circle cx="301.12" cy="201.10" r="1.6" fill="#D95319"/>
<circle cx="305.07" cy="203.00" r="1.6" fill="#D95319"/>
<circle cx="309.03" cy="205.40" r="1.6" fill="#D95319"/>
<circle cx="312.99" cy="207.90" r="1.6" fill="#D95319"/>
<circle cx="316.95" cy="210.20" r="1.6" fill="#D95319"/>
<circle cx="320.90" cy="213.10" r="1.6" fill="#D95319"/>
<circle cx="324.86" cy="216.00" r="1.6" fill="#D95319"/>
<circle cx="328.82" cy="218.60" r="1.6" fill="#D95319"/>
<circle cx="332.78" cy="221.70" r="1.6" fill="#D95319"/>
<circle cx="336.74" cy="223.40" r="1.6" fill="#D95319"/>
<circle cx="340.69" cy="225.60" r="1.6" fill="#D95319"/>
<circle cx="344.65" cy="227.90" r="1.6" fill="#D95319"/>
<circle cx="265.50" cy="165.00" r="1.6" fill="#1a74c2"/>
<circle cx="269.46" cy="206.10" r="1.6" fill="#1a74c2"/>
<circle cx="273.42" cy="210.70" r="1.6" fill="#1a74c2"/>
<circle cx="277.37" cy="220.40" r="1.6" fill="#1a74c2"/>
<circle cx="281.33" cy="214.30" r="1.6" fill="#1a74c2"/>
<circle cx="285.29" cy="215.40" r="1.6" fill="#1a74c2"/>
<circle cx="289.25" cy="219.70" r="1.6" fill="#1a74c2"/>
<circle cx="293.20" cy="222.10" r="1.6" fill="#1a74c2"/>
<circle cx="297.16" cy="223.10" r="1.6" fill="#1a74c2"/>
<circle cx="301.12" cy="224.60" r="1.6" fill="#1a74c2"/>
<circle cx="305.07" cy="226.50" r="1.6" fill="#1a74c2"/>
<circle cx="309.03" cy="228.10" r="1.6" fill="#1a74c2"/>
<circle cx="312.99" cy="229.30" r="1.6" fill="#1a74c2"/>
<circle cx="316.95" cy="231.20" r="1.6" fill="#1a74c2"/>
<circle cx="320.90" cy="232.30" r="1.6" fill="#1a74c2"/>
<circle cx="324.86" cy="233.20" r="1.6" fill="#1a74c2"/>
<circle cx="328.82" cy="235.00" r="1.6" fill="#1a74c2"/>
<circle cx="332.78" cy="235.90" r="1.6" fill="#1a74c2"/>
<circle cx="336.74" cy="236.20" r="1.6" fill="#1a74c2"/>
<circle cx="340.69" cy="236.80" r="1.6" fill="#1a74c2"/>
<circle cx="344.65" cy="238.00" r="1.6" fill="#1a74c2"/>
<circle cx="376.00" cy="233.20" r="1.6" fill="#000"/>
<circle cx="381.30" cy="238.00" r="1.6" fill="#000"/>
<circle cx="386.60" cy="211.50" r="1.6" fill="#000"/>
<circle cx="391.90" cy="196.80" r="1.6" fill="#000"/>
<circle cx="397.20" cy="171.70" r="1.6" fill="#000"/>
<circle cx="402.50" cy="186.90" r="1.6" fill="#000"/>
<circle cx="407.80" cy="179.60" r="1.6" fill="#000"/>
<circle cx="413.10" cy="164.70" r="1.6" fill="#000"/>
<circle cx="418.40" cy="181.00" r="1.6" fill="#000"/>
<circle cx="423.70" cy="182.90" r="1.6" fill="#000"/>
<circle cx="429.00" cy="177.60" r="1.6" fill="#000"/>
<circle cx="434.30" cy="197.20" r="1.6" fill="#000"/>
<circle cx="439.60" cy="195.50" r="1.6" fill="#000"/>
<circle cx="444.90" cy="212.60" r="1.6" fill="#000"/>
<circle cx="450.20" cy="212.20" r="1.6" fill="#000"/>
<circle cx="455.50" cy="223.00" r="1.6" fill="#000"/>
<circle cx="376.00" cy="207.40" r="1.6" fill="#D95319"/>
<circle cx="381.30" cy="211.50" r="1.6" fill="#D95319"/>
<circle cx="386.60" cy="207.40" r="1.6" fill="#D95319"/>
<circle cx="391.90" cy="207.40" r="1.6" fill="#D95319"/>
<circle cx="397.20" cy="208.00" r="1.6" fill="#D95319"/>
<circle cx="402.50" cy="208.00" r="1.6" fill="#D95319"/>
<circle cx="407.80" cy="208.70" r="1.6" fill="#D95319"/>
<circle cx="413.10" cy="209.20" r="1.6" fill="#D95319"/>
<circle cx="418.40" cy="209.70" r="1.6" fill="#D95319"/>
<circle cx="423.70" cy="209.60" r="1.6" fill="#D95319"/>
<circle cx="429.00" cy="210.30" r="1.6" fill="#D95319"/>
<circle cx="434.30" cy="210.60" r="1.6" fill="#D95319"/>
<circle cx="439.60" cy="211.30" r="1.6" fill="#D95319"/>
<circle cx="444.90" cy="211.50" r="1.6" fill="#D95319"/>
<circle cx="450.20" cy="211.90" r="1.6" fill="#D95319"/>
<circle cx="455.50" cy="212.40" r="1.6" fill="#D95319"/>
<circle cx="376.00" cy="229.50" r="1.6" fill="#1a74c2"/>
<circle cx="381.30" cy="229.50" r="1.6" fill="#1a74c2"/>
<circle cx="386.60" cy="229.50" r="1.6" fill="#1a74c2"/>
<circle cx="391.90" cy="229.50" r="1.6" fill="#1a74c2"/>
<circle cx="397.20" cy="229.50" r="1.6" fill="#1a74c2"/>
<circle cx="402.50" cy="229.50" r="1.6" fill="#1a74c2"/>
<circle cx="407.80" cy="229.50" r="1.6" fill="#1a74c2"/>
<circle cx="413.10" cy="229.50" r="1.6" fill="#1a74c2"/>
<circle cx="418.40" cy="229.50" r="1.6" fill="#1a74c2"/>
<circle cx="423.70" cy="229.50" r="1.6" fill="#1a74c2"/>
<circle cx="429.00" cy="229.50" r="1.6" fill="#1a74c2"/>
<circle cx="434.30" cy="229.50" r="1.6" fill="#1a74c2"/>
<circle cx="439.60" cy="229.50" r="1.6" fill="#1a74c2"/>
<circle cx="444.90" cy="229.50" r="1.6" fill="#1a74c2"/>
<circle cx="450.20" cy="229.50" r="1.6" fill="#1a74c2"/>
<circle cx="455.50" cy="229.50" r="1.6" fill="#1a74c2"/>
<circle cx="496.34" cy="214.20" r="1.6" fill="#000"/>
<circle cx="500.27" cy="206.00" r="1.6" fill="#000"/>
<circle cx="504.21" cy="201.60" r="1.6" fill="#000"/>
<circle cx="508.14" cy="182.10" r="1.6" fill="#000"/>
<circle cx="512.08" cy="173.90" r="1.6" fill="#000"/>
<circle cx="516.01" cy="170.00" r="1.6" fill="#000"/>
<circle cx="519.95" cy="166.00" r="1.6" fill="#000"/>
<circle cx="523.88" cy="178.10" r="1.6" fill="#000"/>
<circle cx="527.82" cy="186.50" r="1.6" fill="#000"/>
<circle cx="531.75" cy="190.00" r="1.6" fill="#000"/>
<circle cx="535.69" cy="195.30" r="1.6" fill="#000"/>
<circle cx="539.62" cy="201.10" r="1.6" fill="#000"/>
<circle cx="543.56" cy="210.50" r="1.6" fill="#000"/>
<circle cx="547.49" cy="222.50" r="1.6" fill="#000"/>
<circle cx="551.43" cy="220.40" r="1.6" fill="#000"/>
<circle cx="555.36" cy="226.10" r="1.6" fill="#000"/>
<circle cx="496.34" cy="208.20" r="1.6" fill="#D95319"/>
<circle cx="500.27" cy="208.20" r="1.6" fill="#D95319"/>
<circle cx="504.21" cy="208.20" r="1.6" fill="#D95319"/>
<circle cx="508.14" cy="208.20" r="1.6" fill="#D95319"/>
<circle cx="512.08" cy="208.20" r="1.6" fill="#D95319"/>
<circle cx="516.01" cy="208.20" r="1.6" fill="#D95319"/>
<circle cx="519.95" cy="208.00" r="1.6" fill="#D95319"/>
<circle cx="523.88" cy="208.00" r="1.6" fill="#D95319"/>
<circle cx="527.82" cy="208.00" r="1.6" fill="#D95319"/>
<circle cx="531.75" cy="208.00" r="1.6" fill="#D95319"/>
<circle cx="535.69" cy="207.70" r="1.6" fill="#D95319"/>
<circle cx="539.62" cy="207.70" r="1.6" fill="#D95319"/>
<circle cx="543.56" cy="207.70" r="1.6" fill="#D95319"/>
<circle cx="547.49" cy="207.70" r="1.6" fill="#D95319"/>
<circle cx="551.43" cy="201.20" r="1.6" fill="#D95319"/>
<circle cx="555.36" cy="207.10" r="1.6" fill="#D95319"/>
<circle cx="496.34" cy="229.50" r="1.6" fill="#1a74c2"/>
<circle cx="500.27" cy="229.50" r="1.6" fill="#1a74c2"/>
<circle cx="504.21" cy="229.50" r="1.6" fill="#1a74c2"/>
<circle cx="508.14" cy="229.50" r="1.6" fill="#1a74c2"/>
<circle cx="512.08" cy="229.50" r="1.6" fill="#1a74c2"/>
<circle cx="516.01" cy="229.50" r="1.6" fill="#1a74c2"/>
<circle cx="519.95" cy="229.50" r="1.6" fill="#1a74c2"/>
<circle cx="523.88" cy="229.50" r="1.6" fill="#1a74c2"/>
<circle cx="527.82" cy="229.50" r="1.6" fill="#1a74c2"/>
<circle cx="531.75" cy="229.50" r="1.6" fill="#1a74c2"/>
<circle cx="535.69" cy="229.50" r="1.6" fill="#1a74c2"/>
<circle cx="539.62" cy="229.50" r="1.6" fill="#1a74c2"/>
<circle cx="543.56" cy="229.50" r="1.6" fill="#1a74c2"/>
<circle cx="547.49" cy="229.50" r="1.6" fill="#1a74c2"/>
<circle cx="551.43" cy="225.70" r="1.6" fill="#1a74c2"/>
<circle cx="555.36" cy="229.40" r="1.6" fill="#1a74c2"/>
<circle cx="606.19" cy="187.10" r="1.6" fill="#000"/>
<circle cx="610.15" cy="184.60" r="1.6" fill="#000"/>
<circle cx="614.11" cy="184.60" r="1.6" fill="#000"/>
<circle cx="618.07" cy="190.00" r="1.6" fill="#000"/>
<circle cx="622.02" cy="186.10" r="1.6" fill="#000"/>
<circle cx="625.98" cy="169.60" r="1.6" fill="#000"/>
<circle cx="629.94" cy="190.70" r="1.6" fill="#000"/>
<circle cx="633.90" cy="175.00" r="1.6" fill="#000"/>
<circle cx="637.85" cy="174.30" r="1.6" fill="#000"/>
<circle cx="641.81" cy="184.00" r="1.6" fill="#000"/>
<circle cx="645.77" cy="190.00" r="1.6" fill="#000"/>
<circle cx="649.73" cy="175.30" r="1.6" fill="#000"/>
<circle cx="653.68" cy="195.00" r="1.6" fill="#000"/>
<circle cx="657.64" cy="181.10" r="1.6" fill="#000"/>
<circle cx="661.60" cy="189.70" r="1.6" fill="#000"/>
<circle cx="665.56" cy="180.00" r="1.6" fill="#000"/>
<circle cx="606.19" cy="207.50" r="1.6" fill="#D95319"/>
<circle cx="610.15" cy="207.50" r="1.6" fill="#D95319"/>
<circle cx="614.11" cy="207.50" r="1.6" fill="#D95319"/>
<circle cx="618.07" cy="207.50" r="1.6" fill="#D95319"/>
<circle cx="622.02" cy="207.50" r="1.6" fill="#D95319"/>
<circle cx="625.98" cy="207.50" r="1.6" fill="#D95319"/>
<circle cx="629.94" cy="207.50" r="1.6" fill="#D95319"/>
<circle cx="633.90" cy="207.50" r="1.6" fill="#D95319"/>
<circle cx="637.85" cy="207.50" r="1.6" fill="#D95319"/>
<circle cx="641.81" cy="207.50" r="1.6" fill="#D95319"/>
<circle cx="645.77" cy="207.50" r="1.6" fill="#D95319"/>
<circle cx="649.73" cy="205.10" r="1.6" fill="#D95319"/>
<circle cx="653.68" cy="208.00" r="1.6" fill="#D95319"/>
<circle cx="657.64" cy="208.00" r="1.6" fill="#D95319"/>
<circle cx="661.60" cy="208.00" r="1.6" fill="#D95319"/>
<circle cx="665.56" cy="208.00" r="1.6" fill="#D95319"/>
<circle cx="606.19" cy="228.80" r="1.6" fill="#1a74c2"/>
<circle cx="610.15" cy="229.30" r="1.6" fill="#1a74c2"/>
<circle cx="614.11" cy="229.30" r="1.6" fill="#1a74c2"/>
<circle cx="618.07" cy="229.30" r="1.6" fill="#1a74c2"/>
<circle cx="622.02" cy="229.30" r="1.6" fill="#1a74c2"/>
<circle cx="625.98" cy="229.30" r="1.6" fill="#1a74c2"/>
<circle cx="629.94" cy="229.30" r="1.6" fill="#1a74c2"/>
<circle cx="633.90" cy="229.30" r="1.6" fill="#1a74c2"/>
<circle cx="637.85" cy="229.30" r="1.6" fill="#1a74c2"/>
<circle cx="641.81" cy="229.30" r="1.6" fill="#1a74c2"/>
<circle cx="645.77" cy="229.30" r="1.6" fill="#1a74c2"/>
<circle cx="649.73" cy="227.90" r="1.6" fill="#1a74c2"/>
<circle cx="653.68" cy="229.80" r="1.6" fill="#1a74c2"/>
<circle cx="657.64" cy="229.80" r="1.6" fill="#1a74c2"/>
<circle cx="661.60" cy="229.80" r="1.6" fill="#1a74c2"/>
<circle cx="665.56" cy="229.80" r="1.6" fill="#1a74c2"/>
</svg>
</body></html>
